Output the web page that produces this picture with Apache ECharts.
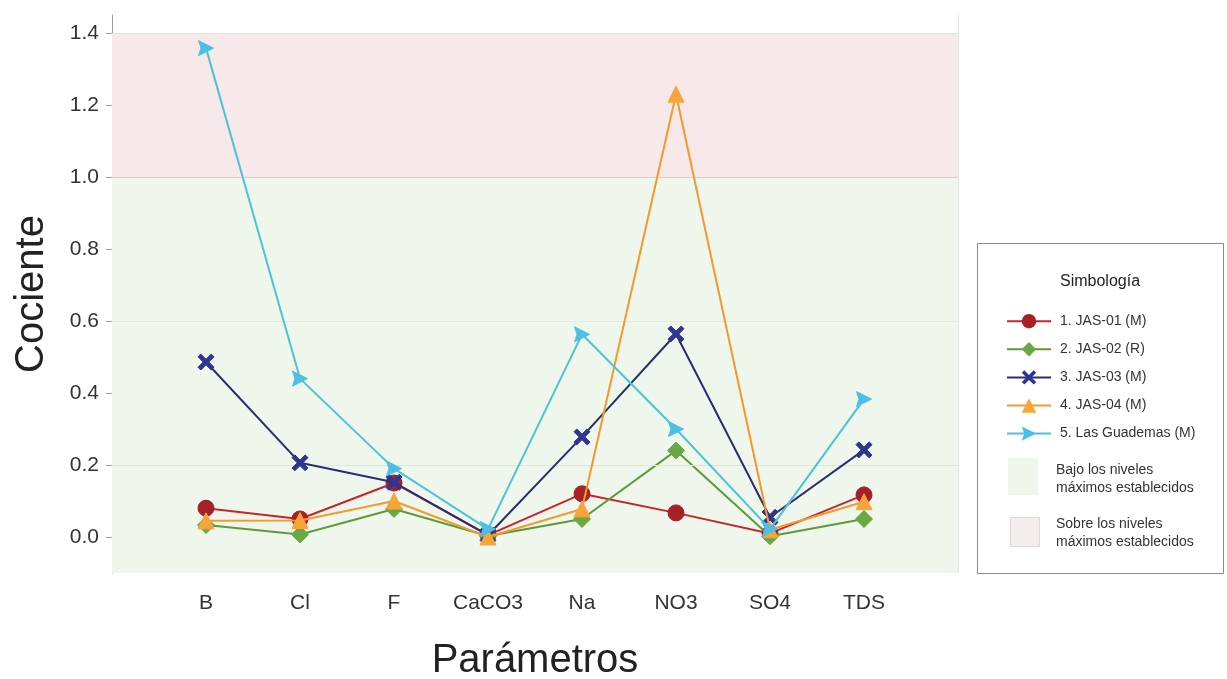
<!DOCTYPE html>
<html>
<head>
<meta charset="utf-8">
<script src="https://cdn.jsdelivr.net/npm/echarts@6/dist/echarts.min.js"></script>
<style>
  html, body { margin: 0; padding: 0; background: #ffffff; }
  #chart { width: 1227px; height: 679px; }
</style>
</head>
<body>
<div id="chart"></div>
<script>
// Parameters on the horizontal axis
const parametros = ['B', 'Cl', 'F', 'CaCO3', 'Na', 'NO3', 'SO4', 'TDS'];

// Ratio (measured / maximum allowed) per sampling site
const jas01 = [0.08, 0.05, 0.15, 0.005, 0.12, 0.067, 0.01, 0.117];
const jas02 = [0.033, 0.007, 0.078, 0.003, 0.05, 0.24, 0.002, 0.05];
const jas03 = [0.486, 0.206, 0.152, 0.005, 0.278, 0.564, 0.055, 0.242];
const jas04 = [0.045, 0.046, 0.10, 0.0, 0.078, 1.23, 0.02, 0.098];
const guademas = [1.358, 0.44, 0.19, 0.022, 0.563, 0.30, 0.022, 0.383];

const seriesNames = ['1. JAS-01 (M)', '2. JAS-02 (R)', '3. JAS-03 (M)', '4. JAS-04 (M)', '5. Las Guademas (M)'];
const yTicks = [0, 0.2, 0.4, 0.6, 0.8, 1.0, 1.2, 1.4];
const limite = 1.0;

const crossPath = 'path://M3.5,0 L10,6.5 L16.5,0 L20,3.5 L13.5,10 L20,16.5 L16.5,20 L10,13.5 L3.5,20 L0,16.5 L6.5,10 L0,3.5 Z';
const arrowPath = 'path://M0,0 L12,6 L0,12 L2,6 Z';

function pts(arr) { return arr.map((v, i) => [i + 1, v]); }

const styles = [
  { data: jas01, line: '#C4262E', fill: '#A52127', symbol: 'circle', size: 16 },
  { data: jas02, line: '#5E9A3A', fill: '#6AA842', symbol: 'diamond', size: 17 },
  { data: jas03, line: '#2A2E6E', fill: '#2F3590', symbol: crossPath, size: 16 },
  { data: jas04, line: '#F29A2E', fill: '#F7A43A', symbol: 'triangle', size: 16 },
  { data: guademas, line: '#4CC4D4', fill: '#4CBFE6', symbol: arrowPath, size: 15 }
];

const series = styles.map((s, k) => ({
  name: seriesNames[k],
  type: 'line',
  data: pts(s.data),
  symbol: s.symbol,
  symbolSize: s.size,
  z: 3 + k,
  lineStyle: { color: s.line, width: 2 },
  itemStyle: { color: s.fill, borderColor: s.fill },
  emphasis: { disabled: true }
}));

// Background bands: below and above the established maximum
series.unshift({
  name: 'bandas',
  type: 'line',
  data: [],
  silent: true,
  z: 1,
  markArea: {
    silent: true,
    itemStyle: { borderWidth: 0 },
    data: [
      [{ yAxis: -0.1, xAxis: 0, itemStyle: { color: '#EFF6EB' } }, { yAxis: limite, xAxis: 9 }],
      [{ yAxis: limite, xAxis: 0, itemStyle: { color: '#F7E8EA' } }, { yAxis: 1.4, xAxis: 9 }]
    ]
  },
  markLine: {
    silent: true,
    symbol: 'none',
    label: { show: false },
    data: [
      { yAxis: 0.2, lineStyle: { color: '#E2E4E0', width: 1, type: 'solid' } },
      { yAxis: 0.6, lineStyle: { color: '#E6E8E4', width: 1, type: 'solid' } },
      { yAxis: limite, lineStyle: { color: '#CFCFCF', width: 1, type: 'solid' } },
      { yAxis: 1.4, lineStyle: { color: '#E4E0E0', width: 1, type: 'solid' } },
      { xAxis: 9, lineStyle: { color: '#E6E6E6', width: 1, type: 'solid' } }
    ]
  }
});

const chart = echarts.init(document.getElementById('chart'), null, { renderer: 'canvas' });

chart.setOption({
  animation: false,
  backgroundColor: '#ffffff',
  textStyle: { fontFamily: 'Liberation Sans, Arial, sans-serif' },
  grid: { left: 112, right: 269, top: 15, bottom: 106, outerBoundsMode: 'none', containLabel: false },
  xAxis: {
    type: 'value',
    min: 0,
    max: 9,
    interval: 1,
    name: 'Parámetros',
    nameLocation: 'middle',
    nameGap: 68,
    nameTextStyle: { fontSize: 40, color: '#222', fontFamily: 'Liberation Sans, Arial, sans-serif' },
    axisLine: { show: true, lineStyle: { color: '#9A9A9A', width: 1 } },
    axisTick: { show: true, length: 6, lineStyle: { color: '#9A9A9A' } },
    axisLabel: {
      fontSize: 21,
      color: '#333',
      margin: 20,
      formatter: v => (v >= 1 && v <= parametros.length) ? parametros[v - 1] : ''
    },
    splitLine: { show: false }
  },
  yAxis: {
    type: 'value',
    min: -0.1,
    max: 1.45,
    name: 'Cociente',
    nameLocation: 'middle',
    nameGap: 60,
    nameTextStyle: { fontSize: 40, color: '#222', fontFamily: 'Liberation Sans, Arial, sans-serif' },
    axisLine: { show: true, lineStyle: { color: '#9A9A9A', width: 1 } },
    axisTick: { show: true, length: 6, customValues: yTicks, lineStyle: { color: '#9A9A9A' } },
    axisLabel: {
      fontSize: 21,
      color: '#333',
      margin: 13,
      customValues: yTicks,
      formatter: v => v.toFixed(1)
    },
    splitLine: { show: false }
  },
  legend: {
    data: seriesNames,
    orient: 'vertical',
    left: 1001,
    top: 309,
    itemWidth: 44,
    itemHeight: 18,
    itemGap: 13.7,
    selectedMode: false,
    textStyle: { fontSize: 14, color: '#333', padding: [0, 0, 0, 4] }
  },
  graphic: [
    { type: 'rect', left: 977, top: 243, shape: { width: 246, height: 330 },
      style: { fill: '#ffffff', stroke: '#8A8A8A', lineWidth: 1 }, z: -1 },
    { type: 'text', left: 1060, top: 274,
      style: { text: 'Simbología', fontSize: 16, fill: '#222', fontFamily: 'Liberation Sans, Arial, sans-serif' } },
    { type: 'rect', left: 1008, top: 458, shape: { width: 30, height: 37 },
      style: { fill: '#EFF6EB' } },
    { type: 'text', left: 1056, top: 461,
      style: { text: 'Bajo los niveles\nmáximos establecidos', fontSize: 14, lineHeight: 18, fill: '#333', fontFamily: 'Liberation Sans, Arial, sans-serif' } },
    { type: 'rect', left: 1010, top: 517, shape: { width: 29, height: 29 },
      style: { fill: '#F3EDEE', stroke: '#DDD8D9', lineWidth: 1 } },
    { type: 'text', left: 1056, top: 515,
      style: { text: 'Sobre los niveles\nmáximos establecidos', fontSize: 14, lineHeight: 18, fill: '#333', fontFamily: 'Liberation Sans, Arial, sans-serif' } }
  ],
  series: series
});
</script>
</body>
</html>
